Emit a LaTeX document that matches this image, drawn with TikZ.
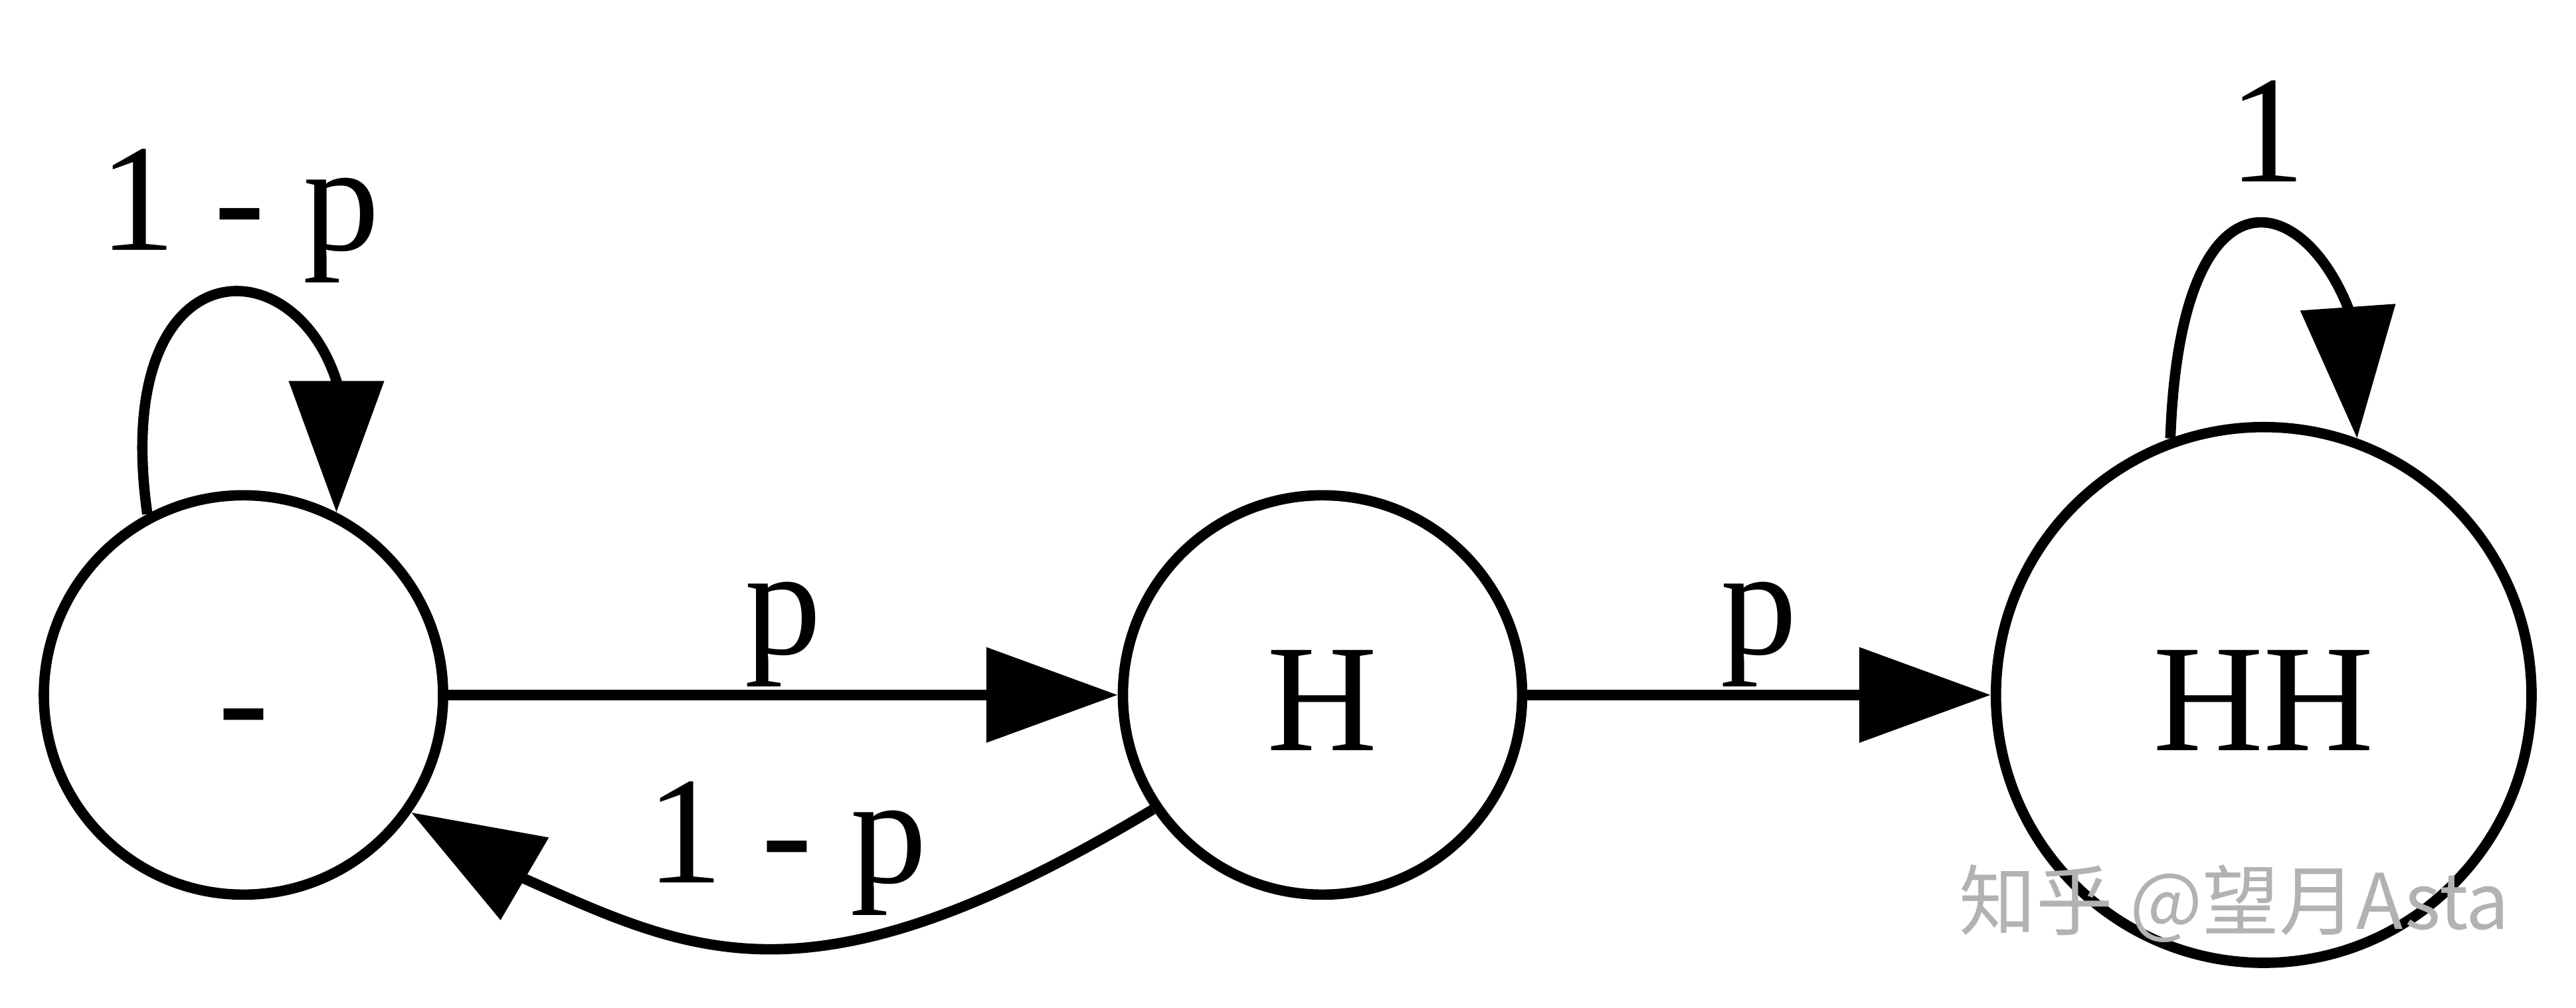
\documentclass[tikz,border=0pt]{standalone}
\usepackage{fontspec}
\setmainfont{Liberation Serif}
\newfontfamily\cjkfont{Noto Sans CJK SC}
\usetikzlibrary{arrows.meta}
\tikzset{
  state/.style={circle, draw, line width=1.8pt, minimum size=2.43cm, inner sep=0pt,
    font=\fontsize{26.5}{30}\selectfont, text height=26.5pt, text depth=7.2pt},
  lbl/.style={font=\fontsize{26.5}{30}\selectfont, inner sep=0.4pt, text depth=5.8pt},
  trans/.style={line width=1.8pt, -{Triangle[length=8mm, width=5.65mm]}}
}
\begin{document}
\begin{tikzpicture}
  \useasboundingbox (0,0) rectangle (15.68,6.13);
  % States
  \node[state] at (1.482, 1.901) (minus) {-};
  \node[state] at (8.050, 1.901) (H) {H};
  \node[state, minimum size=3.26cm] at (13.779, 1.901) (HH) {HH};

  % Transitions
  \draw[trans] (minus) edge node[lbl, above] {p} (H);
  \draw[trans] (H) edge node[lbl, above] {p} (HH);
  \draw[trans] (H.214) to[out=211, in=-24, out distance=2.41cm, in distance=1.14cm]
    node[lbl, pos=0.48, above=0.155cm] {1 - p} ([shift={(0.691,-0.404)}]minus.325) -- (minus.325);

  % Loops
  \draw[trans] (minus.118) to[out=98, in=108, out distance=1.62cm, in distance=0.9cm]
    node[lbl, pos=0.6, above] {1 - p} ([yshift=8mm]minus.63) -- (minus.63);
  \draw[trans] (HH.110) to[out=88, in=112, out distance=1.65cm, in distance=0.8cm]
    node[lbl, pos=0.6, above] {1} ([shift={(-0.056,0.798)}]HH.70) -- (HH.70);

  % Watermark
  \node[text=gray!60, font=\cjkfont\fontsize{13.3}{16}\selectfont] at (13.60, 0.63) (mark) {知乎 @望月Asta};
\end{tikzpicture}
\end{document}
